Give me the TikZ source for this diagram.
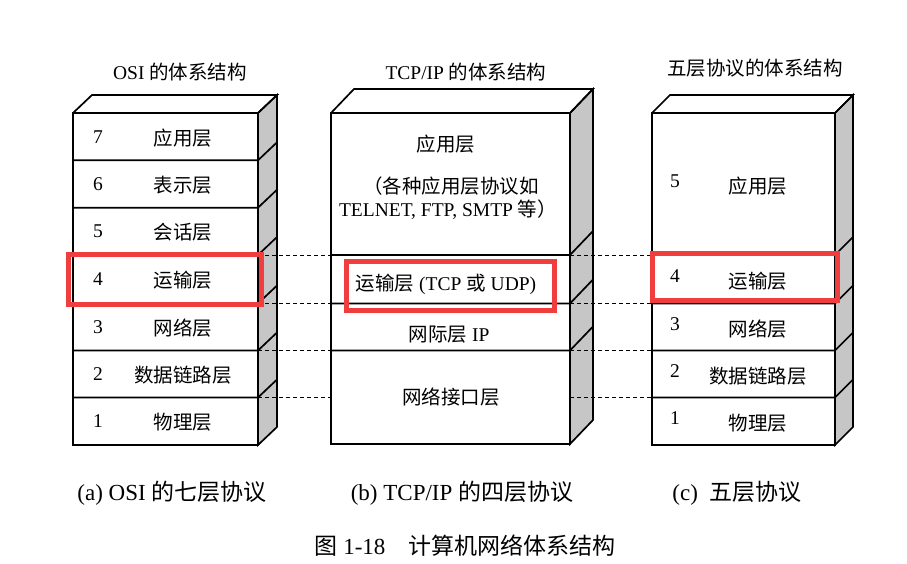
\documentclass[tikz,border=0pt]{standalone}
\usepackage{fontspec}
\setmainfont{Liberation Serif}
\newfontfamily\cjk{Noto Sans CJK SC}
\definecolor{markred}{RGB}{240,62,62}
\begin{document}
\begin{tikzpicture}[x=1pt,y=-1pt,
    every node/.style={font=\fontsize{19.5}{22}\selectfont, inner sep=0pt},
    caption/.style={font=\fontsize{23}{26}\selectfont},
    outline/.style={line width=1.7pt, line join=miter},
    sideface/.style={fill=gray!45},
    redbox/.style={draw=markred, line width=4.8pt},
    guide/.style={line width=0.8pt, dash pattern=on 4pt off 3pt}]
  \useasboundingbox (0,0) rectangle (907,563);
  % OSI stack
  \filldraw[sideface, outline] (258,113) -- (277,95) -- (277,427) -- (258,445) -- cycle;
  \draw[outline] (73,113) -- (92,95) -- (277,95) -- (258,113);
  \draw[outline] (73,113) rectangle (258,445);
  \foreach \y in {160.3,207.7,255,303.5,350.5,397.5}
    \draw[outline] (73,\y) -- (258,\y) -- ++(19,-18);
  % TCP/IP stack
  \filldraw[sideface, outline] (570,113) -- (593,89) -- (593,420) -- (570,444) -- cycle;
  \draw[outline] (331,113) -- (354,89) -- (593,89) -- (570,113);
  \draw[outline] (331,113) rectangle (570,444);
  \foreach \y in {255,303.5,350.5}
    \draw[outline] (331,\y) -- (570,\y) -- ++(23,-24);
  % five-layer stack
  \filldraw[sideface, outline] (835,113) -- (853,95) -- (853,427) -- (835,445) -- cycle;
  \draw[outline] (652,113) -- (670,95) -- (853,95) -- (835,113);
  \draw[outline] (652,113) rectangle (835,445);
  \foreach \y in {255,303.5,350.5,397.5}
    \draw[outline] (652,\y) -- (835,\y) -- ++(18,-18);

  % dashed guides
  \foreach \i/\y in {a/255,b/303.5,c/350.5,d/397.5} {
    \coordinate (osiR\i) at (258,\y);
    \coordinate (tcpL\i) at (331,\y);
    \coordinate (tcpR\i) at (570,\y);
    \coordinate (fiveL\i) at (652,\y);
    \draw[guide] (osiR\i) -- (tcpL\i);
    \draw[guide] (tcpR\i) -- (fiveL\i);
  }

  % titles
  \node (osiTitle) at (180,72) {OSI {\cjk 的体系结构}};
  \node (tcpTitle) at (466,72) {TCP/IP {\cjk 的体系结构}};
  \node (fiveTitle) at (755,68) {\cjk 五层协议的体系结构};

  % OSI layers
  \foreach \n/\y/\t in {7/136.7/应用层,6/184/表示层,5/231.4/会话层,4/279.2/运输层,
                        3/327/网络层,2/374/数据链路层,1/421.2/物理层} {
    \node (osiNum\n) at (98,\y) {\n};
    \node (osiName\n) at (183,\y+1) {\cjk \t};
  }

  % TCP/IP layers
  \node (tcpApp) at (446,144) {\cjk 应用层};
  \node (tcpAppA) at (451,186) {\cjk （各种应用层协议如};
  \node (tcpAppB) at (448,210) {TELNET, FTP, SMTP {\cjk 等）}};
  \node (tcpTrans) at (446,284) {{\cjk 运输层} (TCP {\cjk 或} UDP)};
  \node (tcpIP) at (449,335) {{\cjk 网际层} IP};
  \node (tcpNet) at (451,397) {\cjk 网络接口层};

  % five layers
  \foreach \n/\y/\t in {5/184/应用层,4/279.2/运输层,3/327/网络层,2/374/数据链路层,1/421.2/物理层} {
    \node (fiveNum\n) at (675,\y-3) {\n};
    \node (fiveName\n) at (758,\y+2) {\cjk \t};
  }

  % highlight
  \draw[redbox] (68.5,254.5) rectangle (261.5,304.5);
  \draw[redbox] (346.5,261.5) rectangle (554.5,310.5);
  \draw[redbox] (652.5,253.5) rectangle (837.5,300.5);

  % captions
  \node[caption] (capA) at (172,493) {(a) OSI {\cjk 的七层协议}};
  \node[caption] (capB) at (462,493) {(b) TCP/IP {\cjk 的四层协议}};
  \node[caption] (capC) at (737,493) {(c)\ \ {\cjk 五层协议}};
  \node[caption] (figCap) at (465,546) {{\cjk 图} 1-18\quad{\cjk 计算机网络体系结构}};
\end{tikzpicture}
\end{document}
